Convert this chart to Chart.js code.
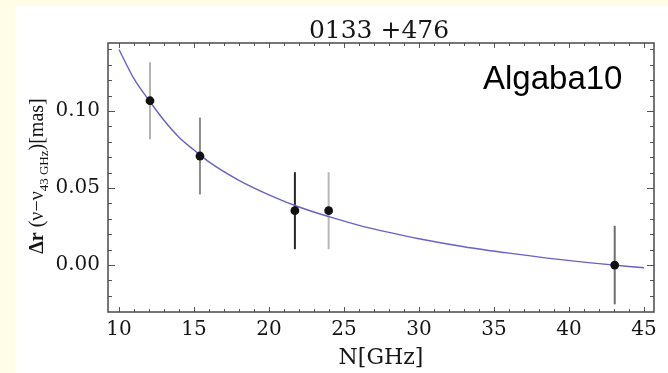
<!DOCTYPE html>
<html>
<head>
<meta charset="utf-8">
<script src="https://cdn.jsdelivr.net/npm/chart.js@4.4.2/dist/chart.umd.min.js"></script>
<style>
  html, body { margin: 0; padding: 0; background: #fffde6; }
  #chart { display: block; }
</style>
</head>
<body>
<canvas id="chart" width="668" height="373"></canvas>
<script>
// measured points (frequency in GHz, core shift in mas)
const freqs = [12.07, 15.4, 21.73, 23.98, 43.05];
const shifts = [0.1067, 0.0708, 0.0353, 0.0353, 0.0];
const errors = [0.025, 0.025, 0.025, 0.025, 0.0255];
const errorColors = ['#b4b4b4', '#8c8c8c', '#262626', '#b8b8b8', '#6e6e6e'];

// fitted curve
const fitFreqs = [10, 11, 12, 13, 14, 15, 16, 18, 20, 22, 24, 26, 28, 30, 33, 36, 39, 42, 45];
const fitShifts = [0.140, 0.121, 0.107, 0.094, 0.083, 0.0747, 0.067, 0.055, 0.0456, 0.0377, 0.0314, 0.0258, 0.0212, 0.0171, 0.0119, 0.0077, 0.0040, 0.0009, -0.0018];

const xTicks = [10, 15, 20, 25, 30, 35, 40, 45];
const yTicks = [0.00, 0.05, 0.10];

const serif = '"DejaVu Serif", serif';
const timesLike = '"Liberation Serif", "Times New Roman", serif';

const errorDatasets = freqs.map((f, i) => ({
  type: 'line',
  data: [{ x: f, y: shifts[i] - errors[i] }, { x: f, y: shifts[i] + errors[i] }],
  borderColor: errorColors[i],
  borderWidth: 2,
  pointRadius: 0,
  order: 2
}));

const decorations = {
  id: 'decorations',
  beforeDraw(chart) {
    const ctx = chart.ctx;
    ctx.save();
    ctx.fillStyle = '#fffde6';
    ctx.fillRect(0, 0, chart.width, chart.height);
    ctx.fillStyle = '#ffffff';
    ctx.fillRect(15, 6, chart.width - 15, chart.height - 6);
    ctx.restore();
  },
  afterDatasetsDraw(chart) {
    const ctx = chart.ctx;
    const a = chart.chartArea;
    const xs = chart.scales.x;
    const ys = chart.scales.y;
    ctx.save();
    ctx.strokeStyle = '#555555';
    ctx.lineWidth = 1;
    ctx.beginPath();
    for (let v = 10; v <= 45; v++) {
      const px = Math.round(xs.getPixelForValue(v)) + 0.5;
      const len = v % 5 === 0 ? 5 : 3;
      ctx.moveTo(px, a.bottom); ctx.lineTo(px, a.bottom - len);
      ctx.moveTo(px, a.top); ctx.lineTo(px, a.top + len);
    }
    for (let k = -3; k <= 14; k++) {
      const py = Math.round(ys.getPixelForValue(k / 100)) + 0.5;
      if (py <= a.top + 1 || py >= a.bottom - 1) continue;
      const len = k % 5 === 0 ? 7 : 4;
      ctx.moveTo(a.left, py); ctx.lineTo(a.left + len, py);
      ctx.moveTo(a.right, py); ctx.lineTo(a.right - len, py);
    }
    ctx.stroke();
    ctx.strokeStyle = '#4a4a4a';
    ctx.lineWidth = 1.5;
    ctx.strokeRect(a.left, a.top, a.right - a.left, a.bottom - a.top);

    // title
    ctx.fillStyle = '#161616';
    ctx.font = '25px ' + serif;
    ctx.textAlign = 'center';
    ctx.textBaseline = 'alphabetic';
    ctx.fillText('0133 +476', (a.left + a.right) / 2 - 2, 38);

    // x axis title
    ctx.font = '22px ' + serif;
    ctx.fillText('N[GHz]', (a.left + a.right) / 2, 364);

    // annotation
    ctx.fillStyle = '#000000';
    ctx.font = '33px "Liberation Sans", Arial, sans-serif';
    ctx.textAlign = 'left';
    ctx.fillText('Algaba10', 483, 89);

    // y axis title with subscript
    ctx.fillStyle = '#161616';
    ctx.translate(36, 176);
    ctx.rotate(-Math.PI / 2);
    const parts = [
      { t: 'Δr', f: 'bold 20px ' + timesLike, dy: 0 },
      { t: ' (ν−ν', f: '20px ' + timesLike, dy: 0 },
      { t: '43 GHz', f: '13px ' + timesLike, dy: 5 },
      { t: ')[mas]', f: '20px ' + timesLike, dy: 0 }
    ];
    let total = 0;
    parts.forEach(p => { ctx.font = p.f; p.w = ctx.measureText(p.t).width; total += p.w; });
    let x = -total / 2;
    parts.forEach(p => {
      ctx.font = p.f;
      ctx.fillText(p.t, x, 7 + p.dy);
      x += p.w;
    });
    ctx.restore();
  }
};

new Chart(document.getElementById('chart'), {
  type: 'line',
  data: {
    datasets: [
      {
        type: 'line',
        data: freqs.map((f, i) => ({ x: f, y: shifts[i] })),
        showLine: false,
        pointRadius: 4.4,
        pointBackgroundColor: '#111111',
        pointBorderWidth: 0,
        order: 0
      },
      {
        type: 'line',
        data: fitFreqs.map((f, i) => ({ x: f, y: fitShifts[i] })),
        borderColor: '#6a60c9',
        borderWidth: 1.4,
        pointRadius: 0,
        cubicInterpolationMode: 'monotone',
        order: 1
      },
      ...errorDatasets
    ]
  },
  options: {
    responsive: false,
    devicePixelRatio: 1,
    animation: false,
    events: [],
    layout: {
      padding: { left: 0, right: 14, top: 43, bottom: 0 }
    },
    plugins: {
      legend: { display: false },
      title: { display: false },
      tooltip: { enabled: false }
    },
    scales: {
      x: {
        type: 'linear',
        min: 9.27,
        max: 45.67,
        afterBuildTicks: scale => { scale.ticks = xTicks.map(v => ({ value: v })); },
        afterFit: scale => { scale.height = 61; },
        grid: { display: false, drawTicks: false },
        border: { display: false },
        ticks: {
          color: '#161616',
          padding: 6,
          maxRotation: 0,
          font: { family: serif, size: 20 },
          callback: v => String(v)
        }
      },
      y: {
        type: 'linear',
        min: -0.0305,
        max: 0.1442,
        afterBuildTicks: scale => { scale.ticks = yTicks.map(v => ({ value: v })); },
        afterFit: scale => { scale.width = 108; },
        grid: { display: false, drawTicks: false },
        border: { display: false },
        ticks: {
          color: '#161616',
          padding: 8,
          font: { family: serif, size: 20 },
          callback: v => v.toFixed(2)
        }
      }
    }
  },
  plugins: [decorations]
});
</script>
</body>
</html>
